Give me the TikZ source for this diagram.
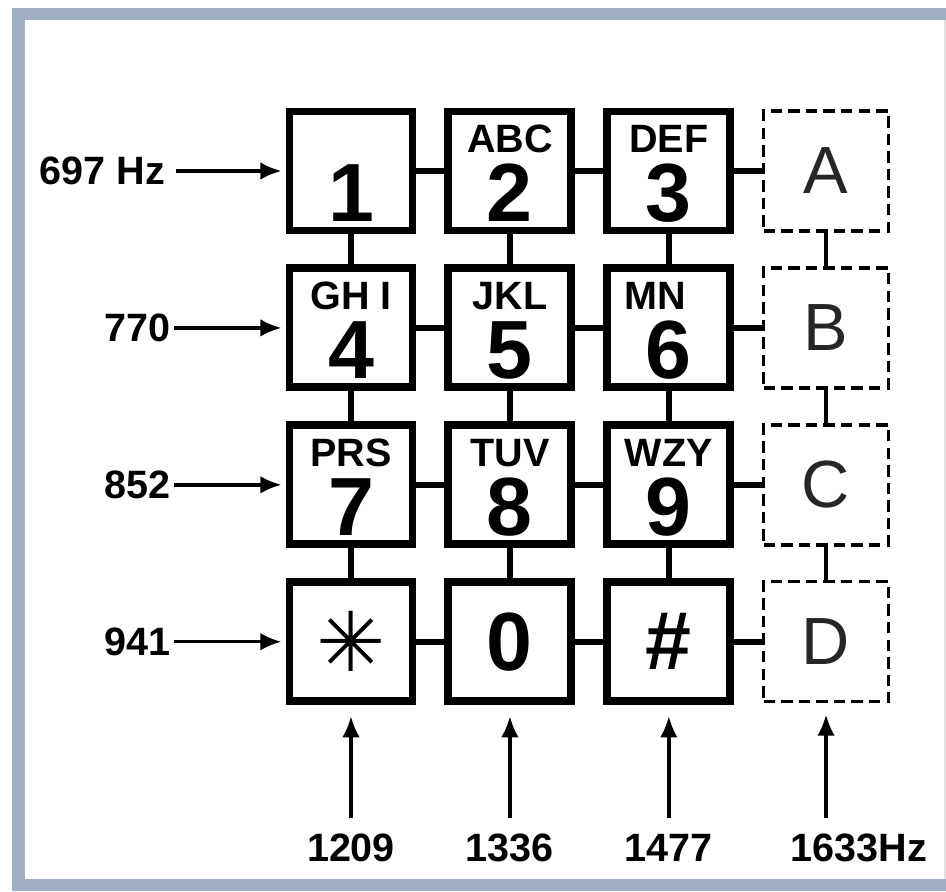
\documentclass[tikz,border=0pt]{standalone}
\usepackage{fontspec}
\setmainfont{Liberation Sans}
\newfontfamily\symfont{DejaVu Sans}
\usepackage{tikz}
\usetikzlibrary{arrows.meta,positioning}
\definecolor{framegray}{RGB}{161,176,192}

\begin{document}
\begin{tikzpicture}[
  key/.style={draw, line width=4.5pt, minimum width=24.6mm, minimum height=23.8mm, inner sep=0pt},
  dkey/.style={draw, line width=2pt, dash pattern=on 6.5pt off 3.5pt, minimum width=25mm, minimum height=24mm, inner sep=0pt},
  dig/.style={font=\fontsize{47}{47}\selectfont\bfseries, inner sep=0pt},
  ltr/.style={font=\fontsize{22.5}{22.5}\selectfont\bfseries, inner sep=0pt},
  dltr/.style={font=\fontsize{38}{38}\selectfont, text=black!85, inner sep=0pt},
  freq/.style={font=\fontsize{22.5}{22.5}\selectfont\bfseries, inner sep=0pt},
  hlink/.style={line width=3.6pt},
  vlink/.style={line width=3.2pt},
  dlink/.style={line width=2pt},
  flow/.style={-{Latex[length=12pt,width=10pt]}, line width=2pt}]
\useasboundingbox (0,0) rectangle (18.92,-17.82);
\fill[framegray] (0.24,-0.16) rectangle (18.92,-17.82);
\fill[white] (0.5,-0.4) rectangle (18.88,-17.58);
\fill[black!12] (18.88,-0.4) rectangle (18.92,-17.58);
% keypad grid
\node[key] (b1) at (7.02,-3.42) {};
\node[key, right=5.6mm of b1] (b2) {};
\node[key, right=5.6mm of b2] (b3) {};
\node[dkey, right=5.5mm of b3] (dA) {};
\node[key, below=6mm of b1] (b4) {};
\node[key, right=5.6mm of b4] (b5) {};
\node[key, right=5.6mm of b5] (b6) {};
\node[dkey, right=5.5mm of b6] (dB) {};
\node[key, below=6mm of b4] (b7) {};
\node[key, right=5.6mm of b7] (b8) {};
\node[key, right=5.6mm of b8] (b9) {};
\node[dkey, right=5.5mm of b9] (dC) {};
\node[key, below=6mm of b7] (bstar) {};
\node[key, right=5.6mm of bstar] (b0) {};
\node[key, right=5.6mm of b0] (bhash) {};
\node[dkey, right=5.5mm of bhash] (dD) {};
% key faces
\node[dig, anchor=base] (t1) at ([yshift=2.5mm]b1.south) {1};
\node[ltr, anchor=base] (l2) at ([yshift=-9mm]b2.north) {ABC};
\node[dig, anchor=base] (t2) at ([yshift=2.5mm]b2.south) {2};
\node[ltr, anchor=base] (l3) at ([yshift=-9mm]b3.north) {DEF};
\node[dig, anchor=base] (t3) at ([yshift=2.5mm]b3.south) {3};
\node[ltr, anchor=base] (l4) at ([yshift=-9mm]b4.north) {GH I};
\node[dig, anchor=base] (t4) at ([yshift=2.5mm]b4.south) {4};
\node[ltr, anchor=base] (l5) at ([yshift=-9mm]b5.north) {JKL};
\node[dig, anchor=base] (t5) at ([yshift=2.5mm]b5.south) {5};
\node[ltr, anchor=base west] (l6) at ([xshift=-9mm,yshift=-9mm]b6.north) {MN};
\node[dig, anchor=base] (t6) at ([yshift=2.5mm]b6.south) {6};
\node[ltr, anchor=base] (l7) at ([yshift=-9mm]b7.north) {PRS};
\node[dig, anchor=base] (t7) at ([yshift=2.5mm]b7.south) {7};
\node[ltr, anchor=base] (l8) at ([yshift=-9mm]b8.north) {TUV};
\node[dig, anchor=base] (t8) at ([yshift=2.5mm]b8.south) {8};
\node[ltr, anchor=base] (l9) at ([yshift=-9mm]b9.north) {WZY};
\node[dig, anchor=base] (t9) at ([yshift=2.5mm]b9.south) {9};
\node[dig] (tstar) at (bstar) {\symfont ✳};
\node[dig] (t0) at (b0) {0};
\node[dig] (thash) at (bhash) {\#};
\node[dltr] (tA) at (dA) {A};
\node[dltr] (tB) at (dB) {B};
\node[dltr] (tC) at (dC) {C};
\node[dltr] (tD) at (dD) {D};
% links
\draw[hlink] (b1) -- (b2);
\draw[hlink] (b2) -- (b3);
\draw[hlink] (b3) -- (dA);
\draw[hlink] (b4) -- (b5);
\draw[hlink] (b5) -- (b6);
\draw[hlink] (b6) -- (dB);
\draw[hlink] (b7) -- (b8);
\draw[hlink] (b8) -- (b9);
\draw[hlink] (b9) -- (dC);
\draw[hlink] (bstar) -- (b0);
\draw[hlink] (b0) -- (bhash);
\draw[hlink] (bhash) -- (dD);
\draw[vlink] (b1) -- (b4);
\draw[vlink] (b4) -- (b7);
\draw[vlink] (b7) -- (bstar);
\draw[vlink] (b2) -- (b5);
\draw[vlink] (b5) -- (b8);
\draw[vlink] (b8) -- (b0);
\draw[vlink] (b3) -- (b6);
\draw[vlink] (b6) -- (b9);
\draw[vlink] (b9) -- (bhash);
\draw[dlink] (dA) -- (dB);
\draw[dlink] (dB) -- (dC);
\draw[dlink] (dC) -- (dD);
% row tones
\node[freq, left=24mm of b1] (f697) {697 Hz};
\node[freq, left=23mm of b4] (f770) {770};
\node[freq, left=23mm of b7] (f852) {852};
\node[freq, left=23mm of bstar] (f941) {941};
\draw[flow, shorten <=2mm, shorten >=0.8mm] (f697) -- (b1);
\draw[flow, shorten <=0.6mm, shorten >=0.8mm] (f770) -- (b4);
\draw[flow, shorten <=0.6mm, shorten >=0.8mm] (f852) -- (b7);
\draw[flow, shorten <=0.6mm, shorten >=0.8mm] (f941) -- (bstar);
% column tones
\node[freq, anchor=base] (k1209) at ([yshift=-31.2mm]bstar.south) {1209};
\node[freq, anchor=base] (k1336) at (b0.south |- k1209.base) {1336};
\node[freq, anchor=base] (k1477) at (bhash.south |- k1209.base) {1477};
\node[freq, anchor=base, xshift=6.6mm] (k1633) at (dD.south |- k1209.base) {1633Hz};
\draw[flow, shorten <=8.6mm, shorten >=2.2mm] (bstar.south |- k1209.base) -- (bstar.south);
\draw[flow, shorten <=8.6mm, shorten >=2.2mm] (b0.south |- k1336.base) -- (b0.south);
\draw[flow, shorten <=8.6mm, shorten >=2.2mm] (bhash.south |- k1477.base) -- (bhash.south);
\draw[flow, shorten <=8.6mm, shorten >=2.2mm] (dD.south |- k1633.base) -- (dD.south);
\end{tikzpicture}
\end{document}
